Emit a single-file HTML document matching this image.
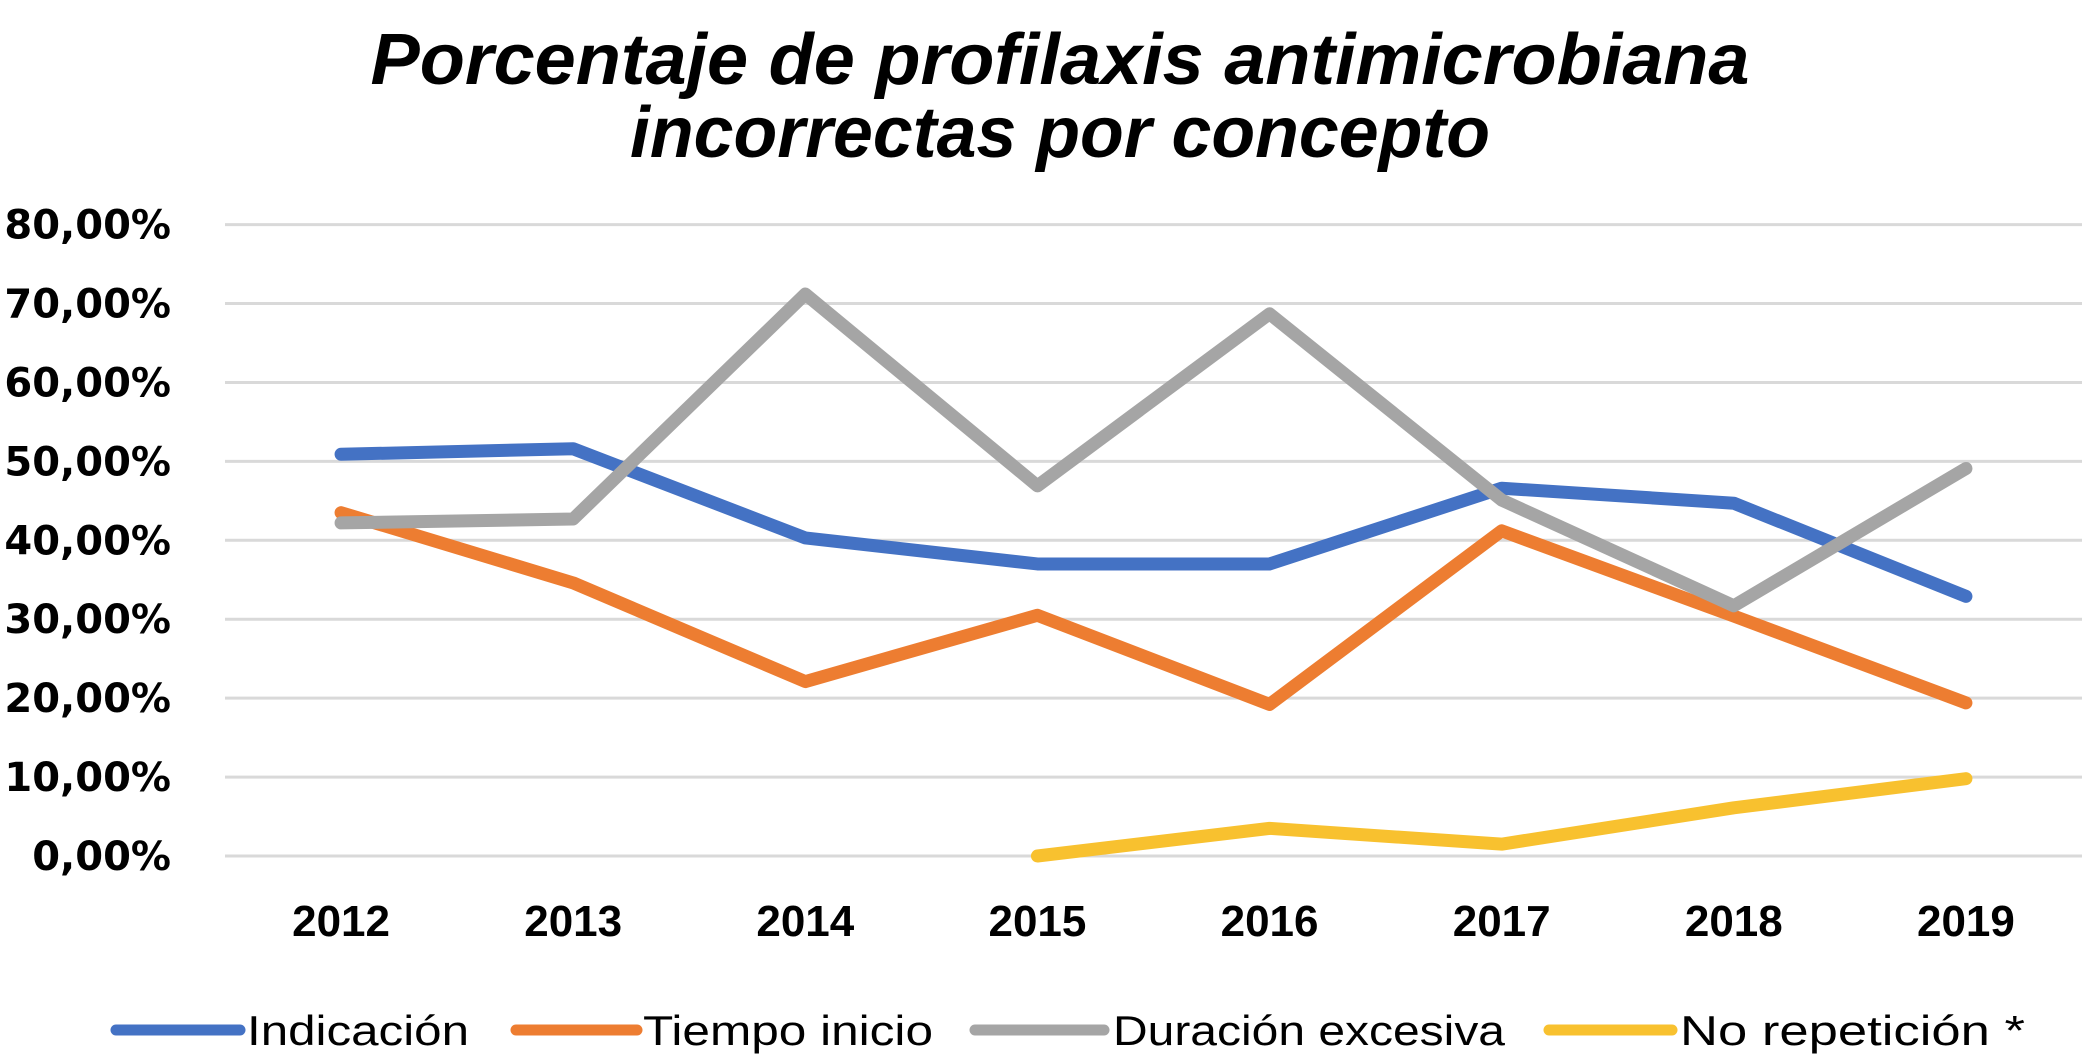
<!DOCTYPE html>
<html><head><meta charset="utf-8"><style>
html,body{margin:0;padding:0;background:#fff;}
svg{display:block;}
</style></head><body>
<svg id="chart" width="2091" height="1061" viewBox="0 0 2091 1061" xmlns="http://www.w3.org/2000/svg">
<g font-family="'Liberation Sans', sans-serif" font-weight="bold" font-style="italic" font-size="72" fill="#000" text-anchor="middle">
<text x="1060" y="84" textLength="1379" lengthAdjust="spacingAndGlyphs">Porcentaje de profilaxis antimicrobiana</text>
<text x="1060" y="157" textLength="860" lengthAdjust="spacingAndGlyphs">incorrectas por concepto</text>
</g>
<g id="grid"></g>
<g id="yaxis"></g>
<g id="xaxis"></g>
<g id="series"></g>
<g id="legend"></g>
</svg>
<script>
const categories = ["2012","2013","2014","2015","2016","2017","2018","2019"];
const indicacion = [50.9,51.6,40.3,37.0,37.0,46.6,44.7,32.9];
const tiempoInicio = [43.5,34.6,22.1,30.5,19.2,41.2,30.4,19.4];
const duracionExcesiva = [42.2,42.7,71.2,46.9,68.7,45.1,31.7,49.1];
const noRepeticion = [null,null,null,0.0,3.5,1.5,6.1,9.8];
const yTicks = [0,10,20,30,40,50,60,70,80];
const yTickLabels = ["0,00%","10,00%","20,00%","30,00%","40,00%","50,00%","60,00%","70,00%","80,00%"];
const seriesNames = ["Indicación","Tiempo inicio","Duración excesiva","No repetición *"];

const NS="http://www.w3.org/2000/svg";
const plotL=225, plotR=2082, y0=856, y80=224.6;
const band=(plotR-plotL)/categories.length;
function xScale(i){return plotL+band*(i+0.5);}
function yScale(v){return y0-(v/80)*(y0-y80);}
function mk(tag,attrs,parent){const e=document.createElementNS(NS,tag);for(const k in attrs)e.setAttribute(k,attrs[k]);parent.appendChild(e);return e;}

const grid=document.getElementById('grid'), yaxis=document.getElementById('yaxis');
yTicks.forEach((t,i)=>{
  const y=yScale(t);
  const l=mk('line',{x1:plotL,x2:plotR,y1:y,y2:y,stroke:'#d9d9d9','stroke-width':3},grid);
  
  
  const tx=mk('text',{x:171,y:y+14,'text-anchor':'end','font-family':"'DejaVu Sans', sans-serif",'font-weight':'bold','font-size':40,fill:'#000'},yaxis);
  tx.textContent=yTickLabels[i];
  
  
});
const xaxis=document.getElementById('xaxis');
categories.forEach((c,i)=>{
  const tx=mk('text',{x:xScale(i),y:936,'text-anchor':'middle','font-family':"'Liberation Sans', sans-serif",'font-weight':'bold','font-size':44,fill:'#000'},xaxis);
  tx.textContent=c;
  
  
});
const colors=['#4472C4','#ED7D31','#A5A5A5','#F8C12F'];
const allSeries=[indicacion,tiempoInicio,duracionExcesiva,noRepeticion];
const sNames=['series-indicacion','series-tiempo-inicio','series-duracion-excesiva','series-no-repeticion'];
const sg=document.getElementById('series');
allSeries.forEach((s,k)=>{
  let d='';
  s.forEach((v,i)=>{if(v===null)return;d+=(d?'L':'M')+xScale(i)+','+yScale(v);});
  const p=mk('path',{d:d,fill:'none',stroke:colors[k],'stroke-width':13,'stroke-linejoin':'round','stroke-linecap':'round'},sg);
  
  
});
const lg=document.getElementById('legend');
const legPos=[[116,240,247,222],[516,637,643,290],[975,1104,1113,392],[1549,1672,1680,345]];
seriesNames.forEach((n,k)=>{
  const [a,b,tx0,w]=legPos[k];
  const g=mk('g',{},lg);
  
  
  const ln=mk('line',{x1:a,x2:b,y1:1030,y2:1030,stroke:colors[k],'stroke-width':11,'stroke-linecap':'round'},g);
  
  
  const t=mk('text',{x:tx0,y:1045,'font-family':"'Liberation Sans', sans-serif",'font-size':42,fill:'#000',textLength:w,lengthAdjust:'spacingAndGlyphs'},g);
  t.textContent=n;
  
  
});
</script>
</body></html>
